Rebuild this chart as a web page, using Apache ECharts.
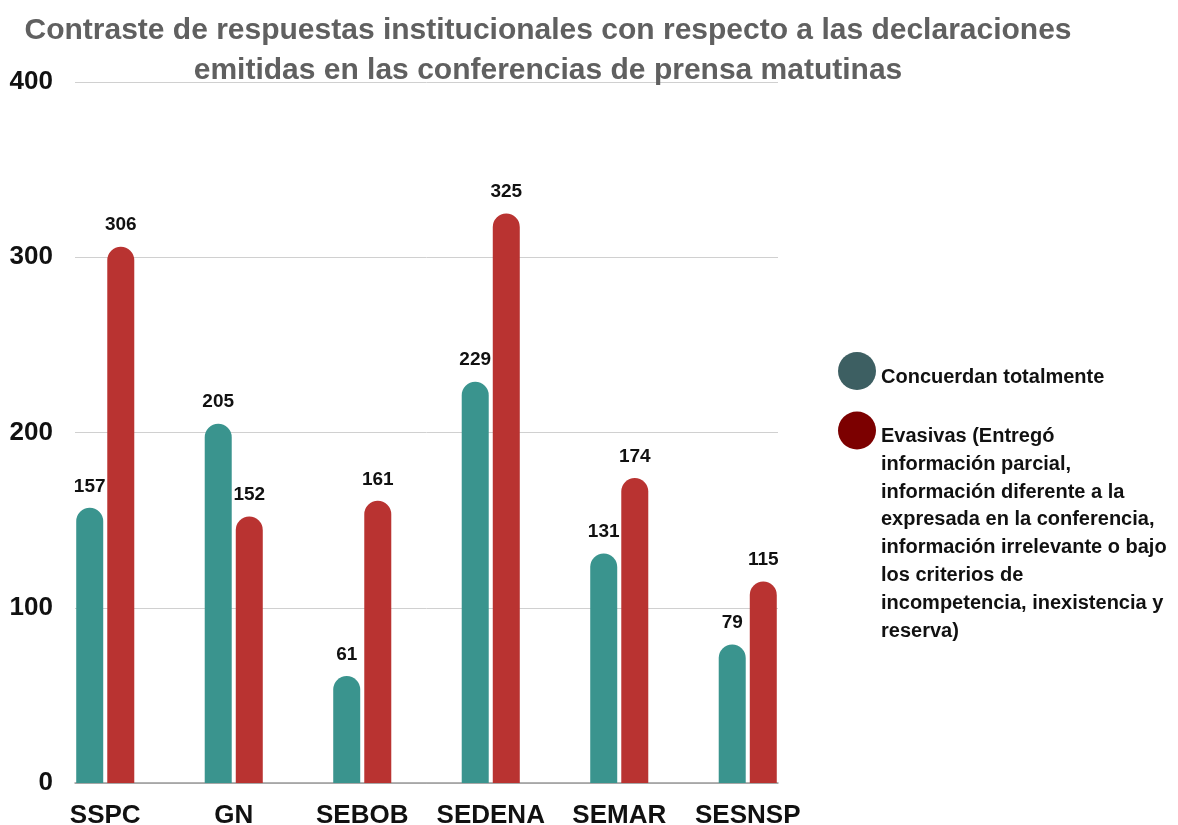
<!DOCTYPE html>
<html><head><meta charset="utf-8">
<script src="https://cdn.jsdelivr.net/npm/echarts@6/dist/echarts.min.js"></script>
<style>html,body{margin:0;padding:0;background:#fff}#c{width:1178px;height:825px}</style>
</head><body><div id="c"></div>
<script>
const categories = ['SSPC','GN','SEBOB','SEDENA','SEMAR','SESNSP'];
const concuerdan = [157,205,61,229,131,79];
const evasivas = [306,152,161,325,174,115];
const seriesNames = ['Concuerdan totalmente','Evasivas (Entregó\ninformación parcial,\ninformación diferente a la\nexpresada en la conferencia,\ninformación irrelevante o bajo\nlos criterios de\nincompetencia, inexistencia y\nreserva)'];
const yTicks = [0,100,200,300,400];

const font = 'Liberation Sans, Arial, sans-serif';
const chart = echarts.init(document.getElementById('c'));
const labelStyle = {show:true, position:'top', distance:12, color:'#111', fontWeight:'bold', fontSize:19, fontFamily:font};
const legendRich = {
  s:{fontSize:4, lineHeight:12, fontFamily:font},
  a:{color:'#111', fontWeight:'bold', fontSize:20, fontFamily:font, lineHeight:27.8}
};
chart.setOption({
  animation:false,
  title:{text:'Contraste de respuestas institucionales con respecto a las declaraciones\nemitidas en las conferencias de prensa matutinas',
    left:548, top:11, padding:0, textAlign:'center',
    textStyle:{color:'#606060', fontSize:30, fontWeight:'bold', fontFamily:font, lineHeight:40}},
  legend:[
    {left:838, top:352, padding:0, itemWidth:38, itemHeight:38, icon:'circle', itemGap:0,
     data:[{name:seriesNames[0], itemStyle:{color:'#3d5f62'}}],
     formatter: n => '{s| }\n{a|' + n + '}',
     textStyle:{rich:legendRich}},
    {left:838, top:220, padding:0, itemWidth:38, itemHeight:38, icon:'circle', itemGap:0,
     data:[{name:seriesNames[1], itemStyle:{color:'#7c0000'}}],
     formatter: n => ['{s| }'].concat(Array(7).fill('{a| }'), n.split('\n').map(l => '{a|' + l + '}')).join('\n'),
     textStyle:{rich:legendRich}}
  ],
  grid:[
    {left:41, right:366, top:82, bottom:42, containLabel:false, outerBoundsMode:'none'},
    {left:75, right:400, top:82, bottom:42, containLabel:false, outerBoundsMode:'none'}
  ],
  xAxis:[
    {type:'category', gridIndex:0, data:categories, axisLine:{show:false}, axisTick:{show:false},
     axisLabel:{interval:0, hideOverlap:false, color:'#111', fontWeight:'bold', fontSize:26, fontFamily:font, margin:20}},
    {type:'category', gridIndex:1, data:categories, axisLine:{show:true, lineStyle:{color:'#999', width:1.5}}, axisTick:{show:false}, axisLabel:{show:false}}
  ],
  yAxis:[
    {type:'value', gridIndex:0, min:0, max:400, interval:100, show:false, splitLine:{show:false}},
    {type:'value', gridIndex:1, min:yTicks[0], max:yTicks[yTicks.length-1], interval:100,
     axisLine:{show:false}, axisTick:{show:false},
     splitLine:{lineStyle:{color:'#d0d0d0', width:1}},
     axisLabel:{color:'#111', fontWeight:'bold', fontSize:26, fontFamily:font, margin:22}}
  ],
  series:[
    {name:seriesNames[0], type:'bar', xAxisIndex:0, yAxisIndex:0, data:concuerdan, barWidth:27, barGap:'15%',
     itemStyle:{color:'#3a948e', borderRadius:[14,14,0,0]}, label:labelStyle},
    {name:seriesNames[1], type:'bar', xAxisIndex:0, yAxisIndex:0, data:evasivas, barWidth:27, barGap:'15%',
     itemStyle:{color:'#b93331', borderRadius:[14,14,0,0]}, label:labelStyle}
  ]
});
</script></body></html>
